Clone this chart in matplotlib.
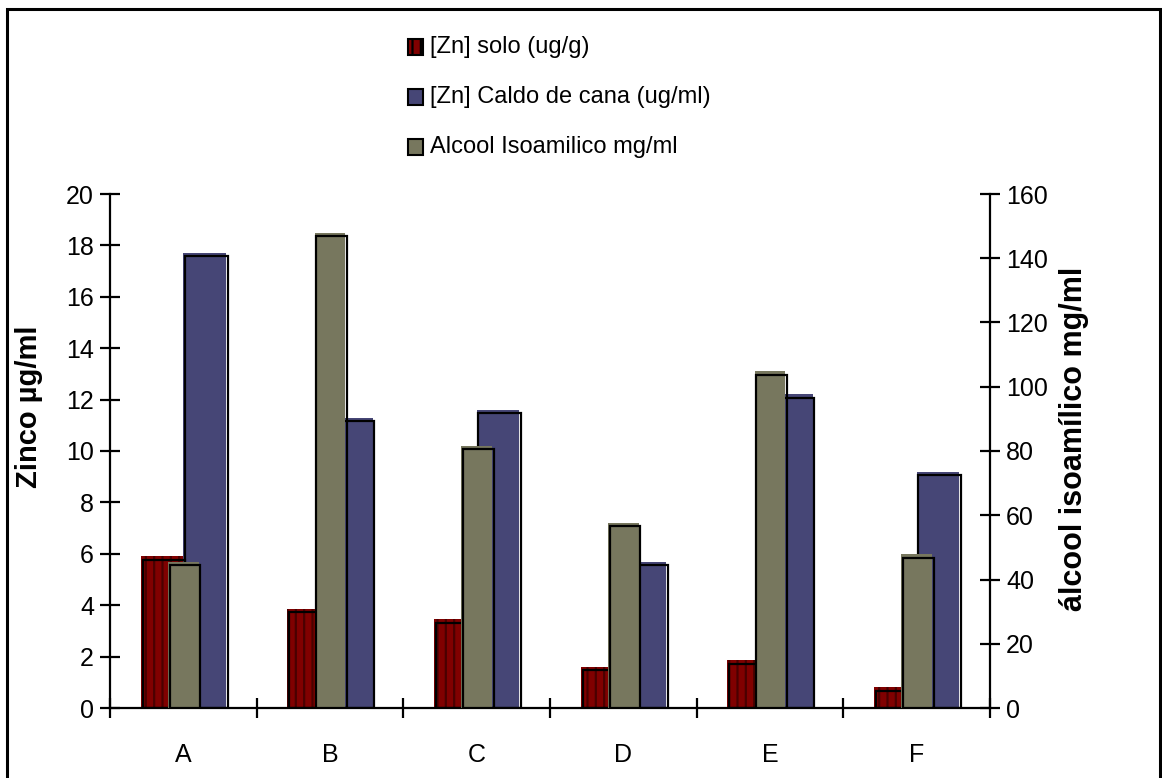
import numpy as np
import matplotlib.pyplot as plt
from matplotlib.patches import Rectangle

plt.rcParams['font.family'] = ['Liberation Sans', 'DejaVu Sans']

# data
categories = ['A', 'B', 'C', 'D', 'E', 'F']
zn_solo = [5.9, 3.85, 3.45, 1.6, 1.85, 0.8]          # ug/g, left axis
zn_caldo = [17.7, 11.3, 11.6, 5.7, 12.2, 9.2]        # ug/ml, left axis
alcool = [45.6, 148.0, 81.5, 57.5, 104.8, 47.8]      # mg/ml, right axis

red = '#800000'
blue = '#464676'
green = '#77775e'

W, H = 1162, 778
fig = plt.figure(figsize=(W / 100, H / 100), dpi=100)
ax = fig.add_axes([110 / W, 70 / H, 880 / W, 514 / H])
ax2 = ax.twinx()

x = np.arange(len(categories))
bw = 0.29
gw = 0.21


def shadow_bars(axis, xpos, vals, width, color, dy, hatch=None):
    # fill first, outline offset slightly right/down like the original
    axis.bar(xpos, vals, width, color=color, linewidth=0, zorder=2)
    if hatch:
        axis.bar(xpos, vals, width, color='none', edgecolor='#4a0000',
                 hatch=hatch, linewidth=0, zorder=2.1)
    axis.bar(xpos + 0.012, np.array(vals) - dy, width, color='none',
             edgecolor='black', linewidth=1.6, zorder=2.2)


plt.rcParams['hatch.linewidth'] = 1.6
shadow_bars(ax, x - bw / 2, zn_solo, bw, red, 0.13, hatch='||')
shadow_bars(ax, x + bw / 2, zn_caldo, bw, blue, 0.13)
shadow_bars(ax2, x, alcool, gw, green, 1.0)

ax.set_xlim(-0.5, len(categories) - 0.5)
ax.set_ylim(0, 20)
ax2.set_ylim(0, 160)
ax.set_yticks(np.arange(0, 21, 2))
ax2.set_yticks(np.arange(0, 161, 20))
ax.set_xticks(x)
ax.set_xticklabels(categories)
ax.set_xticks(np.arange(-0.5, len(categories), 1), minor=True)

for a in (ax, ax2):
    a.spines['top'].set_visible(False)
    for s in a.spines.values():
        s.set_linewidth(1.6)
ax.spines['right'].set_visible(False)
ax2.spines['left'].set_visible(False)
ax2.spines['bottom'].set_visible(False)

ax.tick_params(axis='x', which='major', length=0, pad=25, labelsize=18)
ax.tick_params(axis='x', which='minor', length=15, width=1.6, direction='inout')
ax.tick_params(axis='y', length=15, width=1.6, direction='inout', labelsize=18, pad=4)
ax2.tick_params(axis='y', length=15, width=1.6, direction='inout', labelsize=18, pad=4)

# axis titles, placed where the original has them
fig.text(29 / W, 1 - 407 / H, 'Zinco µg/ml', fontsize=21, fontweight='bold',
         rotation=90, ha='center', va='center')
fig.text(1074 / W, 1 - 439 / H, 'álcool isoamílico mg/ml', fontsize=22,
         fontweight='bold', rotation=90, ha='center', va='center')

# legend, no frame, stacked at top
labels = ['[Zn] solo (ug/g)', '[Zn] Caldo de cana (ug/ml)', 'Alcool Isoamilico mg/ml']
colors = [red, blue, green]
for i, (lab, c) in enumerate(zip(labels, colors)):
    yc = 1 - (47 + 50 * i) / H
    fig.patches.append(Rectangle((408 / W, yc - 7.5 / H), 15 / W, 15 / H, transform=fig.transFigure,
                                 facecolor=c, edgecolor='black', linewidth=1.5,
                                 hatch='||' if i == 0 else None))
    fig.text(430 / W, yc, lab, fontsize=17, va='center', ha='left')

# outer frame
fig.patches.append(Rectangle((7 / W, -0.05), (1160 - 7) / W, 1.05 - 9 / H,
                             transform=fig.transFigure, fill=False,
                             edgecolor='black', linewidth=2.2))

fig.savefig('out.png', dpi=100)
